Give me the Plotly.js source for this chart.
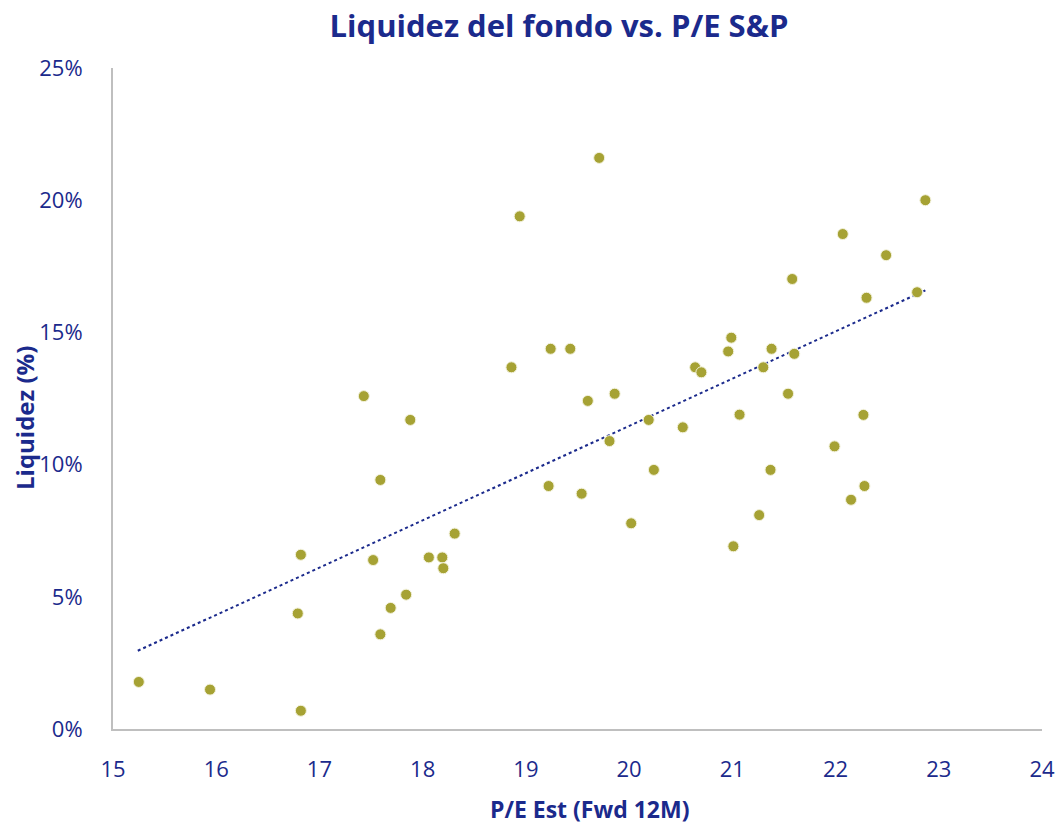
<!DOCTYPE html>
<html>
<head>
<meta charset="utf-8">
<script src="https://cdn.plot.ly/plotly-3.0.1.min.js"></script>
<style>
  html, body { margin: 0; padding: 0; background: #fff; }
  #chart { width: 1058px; height: 824px; }
</style>
</head>
<body>
<div id="chart"></div>
<script>
// P/E Est (Fwd 12M)
const peValues = [
  15.25, 15.94, 16.82, 16.82, 16.79, 17.52, 17.59, 17.69, 17.84, 18.06,
  18.19, 18.20, 18.31, 17.43, 17.59, 17.88, 18.86, 18.94, 19.22, 19.24,
  19.43, 19.54, 19.60, 19.71, 19.81, 19.86, 20.02, 20.19, 20.24, 20.52,
  20.64, 20.70, 20.96, 20.99, 21.01, 21.07, 21.26, 21.30, 21.37, 21.38,
  21.54, 21.58, 21.60, 21.99, 22.07, 22.15, 22.27, 22.28, 22.30, 22.49,
  22.79, 22.87
];
// Liquidez (%)
const liquidezValues = [
  1.78, 1.49, 0.69, 6.59, 4.37, 6.39, 3.58, 4.58, 5.08, 6.49,
  6.49, 6.08, 7.39, 12.59, 9.42, 11.69, 13.68, 19.39, 9.19, 14.38,
  14.38, 8.90, 12.41, 21.60, 10.89, 12.68, 7.78, 11.69, 9.80, 11.41,
  13.68, 13.49, 14.28, 14.80, 6.91, 11.89, 8.09, 13.68, 9.80, 14.38,
  12.68, 17.02, 14.19, 10.69, 18.72, 8.67, 11.88, 9.19, 16.31, 17.92,
  16.52, 20.00
];
// Linear trendline end points
const trendPE = [15.24, 22.87];
const trendLiquidez = [2.96, 16.59];

const xTickVals = [15, 16, 17, 18, 19, 20, 21, 22, 23, 24];
const yTickVals = [0, 5, 10, 15, 20, 25];

const titleText = 'Liquidez del fondo vs. P/E S&amp;P';
const xTitleText = 'P/E Est (Fwd 12M)';
const yTitleText = 'Liquidez (%)';

const navy = '#1B2A8C';
const olive = '#A6A234';
const font = 'Open Sans, Noto Sans, sans-serif';

const traces = [
  {
    type: 'scatter', mode: 'lines', x: trendPE, y: trendLiquidez,
    line: { color: navy, width: 2, dash: 'dot' },
    hoverinfo: 'skip', showlegend: false
  },
  {
    type: 'scatter', mode: 'markers', x: peValues, y: liquidezValues,
    marker: { color: olive, size: 11, line: { color: '#F3F2DC', width: 1 } },
    showlegend: false
  }
];

const layout = {
  width: 1058, height: 824,
  paper_bgcolor: '#fff', plot_bgcolor: '#fff',
  margin: { l: 113, r: 16, t: 68, b: 95 },
  font: { family: font, color: navy, size: 22 },
  title: {
    text: '<b>' + titleText + '</b>',
    font: { family: font, size: 31, color: navy },
    x: 559 / 1058, xanchor: 'center', xref: 'container',
    y: 1 - 26 / 824, yref: 'container', yanchor: 'middle'
  },
  xaxis: {
    range: [15, 24], tickvals: xTickVals, ticktext: xTickVals.map(String),
    showgrid: false, zeroline: false,
    showline: true, linecolor: '#BFBFBF', linewidth: 2,
    ticks: '', ticklabelstandoff: 20,
    tickfont: { family: font, size: 22, color: navy }
  },
  yaxis: {
    range: [0, 25], tickvals: yTickVals, ticktext: yTickVals.map(v => v + '%'),
    showgrid: false, zeroline: false,
    showline: true, linecolor: '#BFBFBF', linewidth: 2,
    ticks: '', ticklabelstandoff: 24,
    tickfont: { family: font, size: 22, color: navy }
  },
  annotations: [
    {
      text: '<b>' + xTitleText + '</b>', showarrow: false,
      xref: 'paper', yref: 'paper', x: (590 - 113) / (1042 - 113), y: -(809 - 729) / (729 - 68),
      xanchor: 'center', yanchor: 'middle',
      font: { family: font, size: 23, color: navy }
    },
    {
      text: '<b>' + yTitleText + '</b>', showarrow: false, textangle: -90,
      xref: 'paper', yref: 'paper', x: -(113 - 24) / (1042 - 113), y: (729 - 418) / (729 - 68),
      xanchor: 'center', yanchor: 'middle',
      font: { family: font, size: 24, color: navy }
    }
  ]
};

Plotly.newPlot('chart', traces, layout, { displayModeBar: false, staticPlot: true });
</script>
</body>
</html>
